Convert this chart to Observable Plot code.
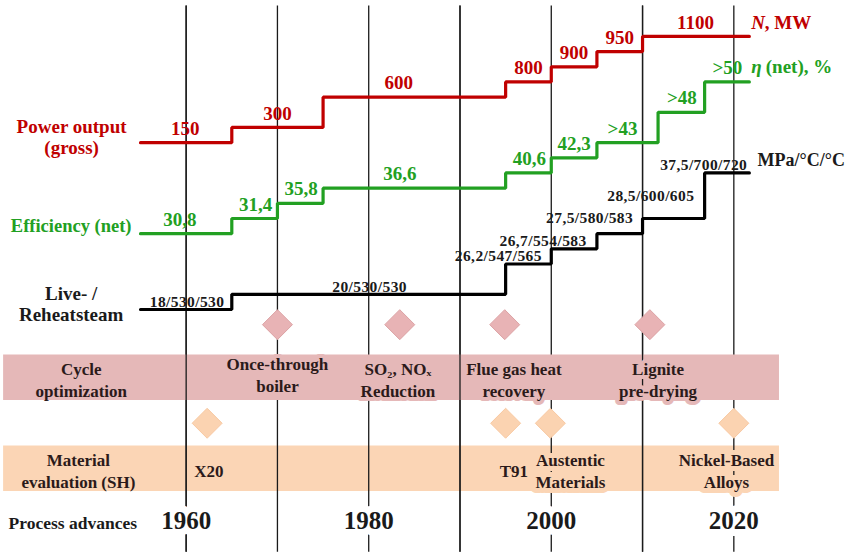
<!DOCTYPE html>
<html><head><meta charset="utf-8">
<script src="https://cdn.jsdelivr.net/npm/d3@7"></script>
<script src="https://cdn.jsdelivr.net/npm/@observablehq/plot@0.6"></script>
<style>body{margin:0;background:#fff} svg{display:block} .blk text{letter-spacing:0.4px}</style>
</head><body><div id="chart"></div>
<script>
// ---- data ----
const decades = [1960, 1970, 1980, 1990, 2000, 2010, 2020];
const frontDecades = [1960, 1990, 2010];
const yearLabels = [1960, 1980, 2000, 2020];

// Power output (gross), MW  (y = step level of the schematic)
const powerYears  = [1955, 1965, 1975, 1995, 2000, 2005, 2010, 2021.7];
const powerLevels = [11, 12, 14, 15, 16, 17, 18];
const powerLabels = ["150", "300", "600", "800", "900", "950", "1100"];
const powerLabelYears = [1959.9, 1970, 1983.3, 1997.5, 2002.5, 2007.5, 2015.8];

// Efficiency (net), %
const effYears  = [1955, 1965, 1970, 1975, 1995, 2000, 2005, 2011.7, 2016.8, 2021.7];
const effLevels = [5, 6, 7, 8, 9, 10, 11, 13, 15];
const effLabels = ["30,8", "31,4", "35,8", "36,6", "40,6", "42,3", ">43", ">48", ">50"];
const effLabelYears = [1959.3, 1967.6, 1972.6, 1983.4, 1997.6, 2002.5, 2007.8, 2014.3, 2019.3];

// Live- / Reheat steam, MPa/°C/°C
const steamYears  = [1955, 1965, 1995, 2000, 2005, 2010, 2016.8, 2021.7];
const steamLevels = [0, 1, 3, 4, 5, 6, 9];
const steamLabels = ["18/530/530", "20/530/530", "26,2/547/565", "26,7/554/583", "27,5/580/583", "28,5/600/605", "37,5/700/720"];
const steamLabelYears  = [1960.1, 1980.1, 1994.2, 1999.1, 2004.2, 2010.9, 2016.7];
const steamLabelLevels = [0.5, 1.5, 3.5, 4.5, 6.0, 7.5, 9.5];

// Process advances
const cycleYears = [1970, 1983.4, 1994.9, 2010.8];
const cycleLabels = ["Once-through\nboiler", "SO₂, NOₓ\nReduction", "Flue gas heat\nrecovery", "Lignite\npre-drying"];
const cycleLabelYears = [1970.0, 1983.2, 1995.9, 2011.7];
const cycleLabelLevels = [-4.27, -4.6, -4.57, -4.55];

const materialYears = [1962.3, 1995, 1999.9, 2020];
const materialLabels = ["X20", "T91", "Austentic\nMaterials", "Nickel-Based\nAlloys"];
const materialLabelYears = [1962.5, 1995.9, 2002.1, 2019.2];

// row titles
const rowTitles = ["Power output\n(gross)", "Efficiency (net)", "Live- /\nReheatsteam"];
const rowTitleLevels = [11.4, 5.47, 0.37];

// band extents (years, levels)
const bandYears = [1940, 2025];
const cycleBand = [-6, -3];
const materialBand = [-12, -9];

// ---- build tables ----
function stepTable(years, levels) {
  const t = levels.map((l, i) => ({year: years[i], level: l}));
  t.push({year: years[years.length - 1], level: levels[levels.length - 1]});
  return t;
}
function labelTable(texts, years, levels) {
  return texts.map((t, i) => ({text: t, year: years[i], level: levels[i]}));
}

const RED = "#c00000", GREEN = "#22a022", DARK = "#1a1a1a", BANDTXT = "#2b1a1a";
const PINK = "#e5b8b8", PEACH = "#fbd5b5";
const F = "'Liberation Serif', 'DejaVu Serif', serif";

const chart = Plot.plot({
  width: 854, height: 557, margin: 0,
  x: {domain: [1939.66, 2033.22], range: [0, 854], axis: null},
  y: {domain: [-16.35, 20.37], range: [557, 0], axis: null},
  style: {fontFamily: F, background: "#fff"},
  marks: [
    // material band (under rules)
    Plot.rect([materialBand], {x1: () => bandYears[0], x2: () => bandYears[1], y1: d => d[0], y2: d => d[1], fill: PEACH}),
    // all vertical rules
    Plot.ruleX(decades, {y1: 20, y2: -16, stroke: DARK, strokeWidth: 1.3}),
    // cycle band (over back rules)
    Plot.rect([cycleBand], {x1: () => bandYears[0], x2: () => bandYears[1], y1: d => d[0], y2: d => d[1], fill: PINK}),
    // front rules
    Plot.ruleX(frontDecades, {y1: 20, y2: -16, stroke: DARK, strokeWidth: 1.3}),

    // step lines
    Plot.line(stepTable(powerYears, powerLevels), {x: "year", y: "level", curve: "step-after", stroke: RED, strokeWidth: 3.2, strokeLinejoin: "miter"}),
    Plot.line(stepTable(effYears, effLevels), {x: "year", y: "level", curve: "step-after", stroke: GREEN, strokeWidth: 3.2, strokeLinejoin: "miter"}),
    Plot.line(stepTable(steamYears, steamLevels), {x: "year", y: "level", curve: "step-after", stroke: "#000", strokeWidth: 3.2, strokeLinejoin: "miter"}),

    // step labels
    Plot.text(labelTable(powerLabels, powerLabelYears, powerLevels), {x: "year", y: "level", text: "text", dy: -14, fill: RED, fontSize: 19, fontWeight: "bold"}),
    Plot.text(labelTable(effLabels, effLabelYears, effLevels), {x: "year", y: "level", text: "text", dy: -14, fill: GREEN, fontSize: 19, fontWeight: "bold"}),
    Plot.text(labelTable(steamLabels, steamLabelYears, steamLabelLevels), {x: "year", y: "level", text: "text", fill: DARK, fontSize: 15.5, fontWeight: "bold", className: "blk"}),

    // series unit labels
    Plot.text(["N"], {x: () => 2021.9, y: () => 18.87, text: d => d, textAnchor: "start", fill: RED, fontSize: 19, fontWeight: "bold", fontStyle: "italic"}),
    Plot.text([", MW"], {x: () => 2023.4, y: () => 18.87, text: d => d, textAnchor: "start", fill: RED, fontSize: 19, fontWeight: "bold"}),
    Plot.text(["η"], {x: () => 2021.9, y: () => 15.96, text: d => d, textAnchor: "start", fill: GREEN, fontSize: 19, fontWeight: "bold", fontStyle: "italic"}),
    Plot.text(["(net), %"], {x: () => 2023.5, y: () => 15.96, text: d => d, textAnchor: "start", fill: GREEN, fontSize: 19, fontWeight: "bold"}),
    Plot.text(["MPa/°C/°C"], {x: () => 2022.6, y: () => 9.87, text: d => d, textAnchor: "start", fill: DARK, fontSize: 18, fontWeight: "bold"}),

    // row titles
    Plot.text([0], {x: () => 1947.45, y: () => rowTitleLevels[0], text: () => rowTitles[0], fill: RED, fontSize: 19, fontWeight: "bold", lineHeight: 1.14}),
    Plot.text([1], {x: () => 1947.4, y: () => rowTitleLevels[1], text: () => rowTitles[1], fill: GREEN, fontSize: 18.5, fontWeight: "bold"}),
    Plot.text([2], {x: () => 1947.4, y: () => rowTitleLevels[2], text: () => rowTitles[2], fill: DARK, fontSize: 19, fontWeight: "bold", lineHeight: 1.12}),

    // diamonds
    Plot.dot(cycleYears, {x: d => d, y: () => -1, symbol: "diamond2", r: 13.5, fill: "#e8b3b5", stroke: "#dca2a4", strokeWidth: 1}),
    Plot.dot(materialYears, {x: d => d, y: () => -7.5, symbol: "diamond2", r: 13.5, fill: "#fbd3b1", stroke: "#f8c9a2", strokeWidth: 1}),

    // band labels
    Plot.text(["Cycle\noptimization"], {x: () => 1948.5, y: () => -4.55, text: d => d, fill: BANDTXT, fontSize: 17, fontWeight: "bold", lineHeight: 1.3}),
    Plot.text(labelTable(cycleLabels, cycleLabelYears, cycleLabelLevels), {x: "year", y: "level", text: "text", fill: BANDTXT, fontSize: 17, fontWeight: "bold", lineHeight: 1.3, stroke: PINK, strokeWidth: 8, paintOrder: "stroke", strokeLinejoin: "round"}),
    Plot.text(["Material\nevaluation (SH)"], {x: () => 1948.2, y: () => -10.56, text: d => d, fill: BANDTXT, fontSize: 17, fontWeight: "bold", lineHeight: 1.3}),
    Plot.text(materialLabels.map((t, i) => ({text: t, year: materialLabelYears[i]})), {x: "year", y: () => -10.55, text: "text", fill: BANDTXT, fontSize: 17, fontWeight: "bold", lineHeight: 1.3, stroke: PEACH, strokeWidth: 10, paintOrder: "stroke", strokeLinejoin: "round"}),

    // bottom axis-like labels
    Plot.text(["Process advances"], {x: () => 1940.55, y: () => -14.09, text: d => d, textAnchor: "start", fill: DARK, fontSize: 17.5, fontWeight: "bold"}),
    Plot.text(yearLabels, {x: d => d, y: () => -13.97, text: d => String(d), fill: DARK, fontSize: 25, fontWeight: "bold", stroke: "#fff", strokeWidth: 14, paintOrder: "stroke", strokeLinejoin: "round"})
  ]
});
document.getElementById("chart").appendChild(chart);
</script>
</body></html>
